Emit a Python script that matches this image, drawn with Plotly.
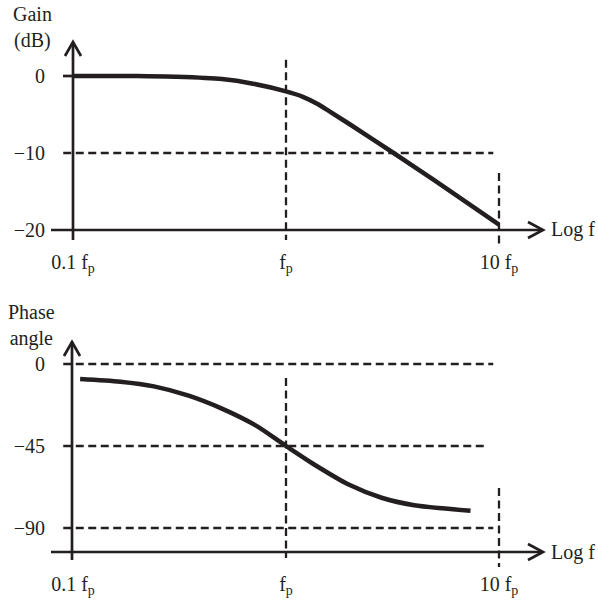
import plotly.graph_objects as go

# Gain curve (frequency in units of f_p, gain in dB)
gain_freq = [0.1, 0.2, 0.3, 0.5, 0.7, 1.0, 1.2, 1.4, 1.6, 2.0, 3.2, 5.0, 10.0]
gain_db = [0.0, 0.0, -0.1, -0.4, -1.0, -2.0, -2.7, -3.6, -4.6, -6.3, -10.0, -13.6, -19.3]

# Phase curve (degrees)
phase_freq = [0.108, 0.167, 0.24, 0.349, 0.50, 0.72, 1.0, 1.38, 1.98, 2.81, 4.0, 7.35]
phase_deg = [-8.2, -9.7, -12.3, -17.4, -24.5, -33.7, -45.0, -55.7, -66.3, -73.4, -77.5, -80.5]

freq_ticks = [0.1, 1, 10]
freq_labels = ["0.1 f<sub>p</sub>", "f<sub>p</sub>", "10 f<sub>p</sub>"]
gain_ticks = [0, -10, -20]
gain_labels = ["0", "\u221210", "\u221220"]
phase_ticks = [0, -45, -90]
phase_labels = ["0", "\u221245", "\u221290"]

# dashed guides: (level, x start, x end) and (freq, y start, y end)
gain_hguides = [(-10, 0.09, 9.4)]
gain_vguides = [(1, 2.1, -21.3), (10, -12.6, -21.9)]
phase_hguides = [(0, 0.09, 9.4), (-45, 0.09, 8.5), (-90, 0.09, 9.4)]
phase_vguides = [(1, -7.7, -106.5), (10, -68, -111.4)]

INK = "#231f20"
FONT = "Liberation Serif"
W, H = 598, 607


def px(x):
    return x / W


def py(y):
    return 1 - y / H


# log axis: 0.1 f_p at x=73px, 10 f_p at x=499px
per_dec = (499 - 73) / 2
x_range = [-1 - 73 / per_dec, -1 + (W - 73) / per_dec]

# gain axis: 0 dB at 76px, -20 dB at 230px; phase: 0 at 364px, -90 at 528px
g_scale = (230 - 76) / 20
p_scale = (528 - 364) / 90
g_dom = (30, 250)
p_dom = (330, 575)
g_range = [-(g_dom[1] - 76) / g_scale, (76 - g_dom[0]) / g_scale]
p_range = [-(p_dom[1] - 364) / p_scale, (364 - p_dom[0]) / p_scale]

fig = go.Figure()

dash = dict(color=INK, width=2.3, dash="8px,4.5px")
for lvl, x0, x1 in gain_hguides:
    fig.add_trace(go.Scatter(x=[x0, x1], y=[lvl, lvl], mode="lines", line=dash,
                             xaxis="x", yaxis="y", hoverinfo="skip"))
for f, y0, y1 in gain_vguides:
    fig.add_trace(go.Scatter(x=[f, f], y=[y0, y1], mode="lines", line=dash,
                             xaxis="x", yaxis="y", hoverinfo="skip"))
for lvl, x0, x1 in phase_hguides:
    fig.add_trace(go.Scatter(x=[x0, x1], y=[lvl, lvl], mode="lines", line=dash,
                             xaxis="x2", yaxis="y2", hoverinfo="skip"))
for f, y0, y1 in phase_vguides:
    fig.add_trace(go.Scatter(x=[f, f], y=[y0, y1], mode="lines", line=dash,
                             xaxis="x2", yaxis="y2", hoverinfo="skip"))

fig.add_trace(go.Scatter(x=gain_freq, y=gain_db, mode="lines",
                         line=dict(color=INK, width=4.5, shape="spline", smoothing=0.8),
                         xaxis="x", yaxis="y", name="Gain"))
fig.add_trace(go.Scatter(x=phase_freq, y=phase_deg, mode="lines",
                         line=dict(color=INK, width=4.5, shape="spline", smoothing=0.8),
                         xaxis="x2", yaxis="y2", name="Phase"))

# axis lines with open arrowheads
shapes = []
axis_line = dict(color=INK, width=2.7)


def arrow_up(x, top, bottom):
    shapes.append(dict(type="line", xref="paper", yref="paper", x0=px(x), x1=px(x),
                       y0=py(bottom), y1=py(top), line=axis_line))
    shapes.append(dict(type="path", xref="paper", yref="paper", line=axis_line,
                       path=f"M {px(x - 8)},{py(top + 14)} L {px(x)},{py(top)} L {px(x + 8)},{py(top + 14)}"))


def arrow_right(y, left, right):
    shapes.append(dict(type="line", xref="paper", yref="paper", x0=px(left), x1=px(right),
                       y0=py(y), y1=py(y), line=axis_line))
    shapes.append(dict(type="path", xref="paper", yref="paper", line=axis_line,
                       path=f"M {px(right - 15)},{py(y - 8)} L {px(right)},{py(y)} L {px(right - 15)},{py(y + 8)}"))


arrow_up(73, 42, 240)
arrow_right(230, 51, 543)
arrow_up(72, 342, 560)
arrow_right(552, 51, 543)
# small solid tick at 0 dB
shapes.append(dict(type="line", xref="paper", yref="paper", x0=px(63), x1=px(73),
                   y0=py(76), y1=py(76), line=axis_line))

font = dict(family=FONT, size=20, color=INK)
annotations = [
    dict(text="Gain<br>(dB)", x=px(32), y=py(1), xref="paper", yref="paper",
         xanchor="center", yanchor="top", showarrow=False, font=font),
    dict(text="Phase<br>angle", x=px(31), y=py(299), xref="paper", yref="paper",
         xanchor="center", yanchor="top", showarrow=False, font=font),
    dict(text="Log f", x=px(549), y=py(230), xref="paper", yref="paper",
         xanchor="left", yanchor="middle", showarrow=False, font=font),
    dict(text="Log f", x=px(549), y=py(552), xref="paper", yref="paper",
         xanchor="left", yanchor="middle", showarrow=False, font=font),
]

xcommon = dict(type="log", range=x_range, domain=[0, 1], anchor="free",
               showgrid=False, zeroline=False, showline=False, ticks="",
               tickvals=freq_ticks, ticktext=freq_labels, tickfont=font,
               ticklabelstandoff=18, automargin=False)
ycommon = dict(anchor="free", position=px(73), showgrid=False, zeroline=False,
               showline=False, ticks="", tickfont=font, ticklabelstandoff=28,
               automargin=False)

fig.update_layout(
    width=W, height=H,
    margin=dict(l=0, r=0, t=0, b=0),
    template="none",
    paper_bgcolor="white", plot_bgcolor="rgba(0,0,0,0)",
    showlegend=False,
    xaxis=dict(xcommon, position=py(230)),
    xaxis2=dict(xcommon, position=py(552)),
    yaxis=dict(ycommon, domain=[py(g_dom[1]), py(g_dom[0])], range=g_range,
               tickvals=gain_ticks, ticktext=gain_labels),
    yaxis2=dict(ycommon, domain=[py(p_dom[1]), py(p_dom[0])], range=p_range,
                tickvals=phase_ticks, ticktext=phase_labels),
    shapes=shapes,
    annotations=annotations,
)

# the page body has a default margin; drop it so the figure sits at (0, 0)
fig.write_html("out.html", config={"displayModeBar": False},
               post_script="document.body.style.margin='0';")
